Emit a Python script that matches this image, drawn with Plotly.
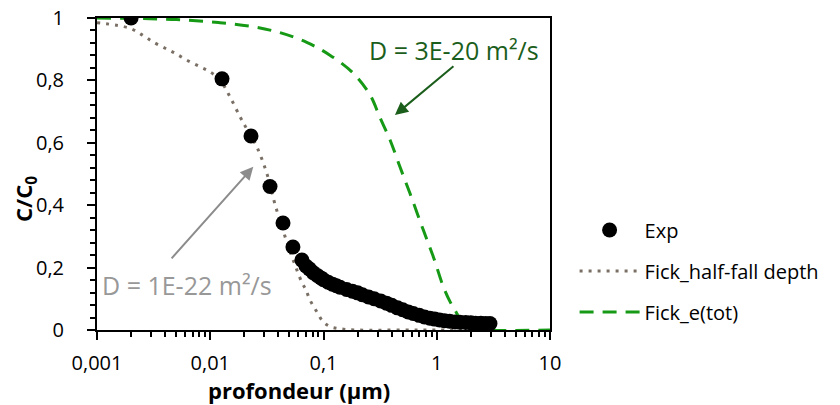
import plotly.graph_objects as go

# Exp data (depth in um, C/C0)
exp_x = [0.002, 0.0127, 0.0229, 0.0337, 0.0439, 0.0537, 0.0645,
         0.070, 0.075, 0.081, 0.088, 0.095, 0.100, 0.11, 0.12, 0.13, 0.14,
         0.16, 0.18, 0.20, 0.22, 0.25, 0.28, 0.32, 0.36, 0.40, 0.45, 0.50,
         0.56, 0.62, 0.70, 0.78, 0.87, 0.96, 1.06, 1.17, 1.30, 1.45, 1.60,
         1.80, 2.00, 2.20, 2.45, 2.70, 2.95]
exp_y = [1.0, 0.805, 0.622, 0.46, 0.343, 0.266, 0.224,
         0.205, 0.196, 0.184, 0.175, 0.167, 0.161, 0.153, 0.147, 0.142, 0.137,
         0.130, 0.124, 0.119, 0.113, 0.106, 0.100, 0.093, 0.086, 0.079, 0.071, 0.065,
         0.058, 0.053, 0.047, 0.042, 0.038, 0.035, 0.032, 0.030, 0.028, 0.026, 0.025,
         0.024, 0.023, 0.022, 0.022, 0.021, 0.021]

# Fick_half-fall depth
half_x = [0.001, 0.00195, 0.0026, 0.0031, 0.004, 0.0049, 0.0062, 0.0081, 0.0099,
          0.0122, 0.0149, 0.0183, 0.0209, 0.0257, 0.0316, 0.0375, 0.0456, 0.054,
          0.064, 0.070, 0.076, 0.087, 0.099, 0.114, 0.139, 0.2, 0.5, 1.0, 3.0]
half_y = [0.985, 0.967, 0.942, 0.924, 0.903, 0.887, 0.865, 0.844, 0.828,
          0.801, 0.748, 0.684, 0.646, 0.588, 0.502, 0.40, 0.301, 0.224,
          0.155, 0.128, 0.096, 0.059, 0.027, 0.011, 0.004, 0.0, 0.0, 0.0, 0.0]

# Fick_e(tot)
tot_x = [0.001, 0.005, 0.0122, 0.024, 0.0413, 0.0711, 0.114, 0.183, 0.258, 0.316,
         0.387, 0.473, 0.58, 0.76, 0.932, 1.143, 1.31, 1.50, 1.7, 1.9, 2.3, 10]
tot_y = [1.0, 0.995, 0.985, 0.972, 0.953, 0.922, 0.881, 0.823, 0.753, 0.68,
         0.609, 0.523, 0.438, 0.321, 0.235, 0.139, 0.091, 0.054, 0.02, 0.005, 0.0, 0.0]

FONT = "Open Sans"

fig = go.Figure()
fig.add_trace(go.Scatter(x=half_x, y=half_y, mode="lines", name="Fick_half-fall depth",
                         line=dict(color="#7a6f64", width=3, dash="3px,6px", shape="spline"),
                         legendrank=2, legendgroup="b"))
fig.add_trace(go.Scatter(x=tot_x, y=tot_y, mode="lines", name="Fick_e(tot)",
                         line=dict(color="#169a16", width=3, dash="14px,9px", shape="spline"),
                         legendrank=3, legendgroup="c"))
fig.add_trace(go.Scatter(x=exp_x, y=exp_y, mode="markers", name="Exp",
                         marker=dict(color="black", size=15),
                         legendrank=1, legendgroup="a"))

# arrows + labels
fig.add_annotation(x=-1.62, y=0.523, xref="x", yref="y", text="", showarrow=True,
                   ax=-83, ay=93, arrowhead=2, arrowsize=1.3, arrowwidth=2,
                   arrowcolor="#8c8c8c")
fig.add_annotation(x=-2.205, y=0.144, xref="x", yref="y", text="D = 1E-22 m²/s",
                   showarrow=False, font=dict(family=FONT, size=25, color="#989898"))
fig.add_annotation(x=-0.369, y=0.689, xref="x", yref="y", text="", showarrow=True,
                   ax=60, ay=-50, arrowhead=2, arrowsize=1.3, arrowwidth=2,
                   arrowcolor="#1b5e1b")
fig.add_annotation(x=0.152, y=0.897, xref="x", yref="y", text="D = 3E-20 m²/s",
                   showarrow=False, font=dict(family=FONT, size=25, color="#1b5e1b"))

# axis titles
fig.add_annotation(x=0.446, y=-0.192, xref="paper", yref="paper",
                   xanchor="center", yanchor="middle",
                   text="<b>profondeur (µm)</b>", showarrow=False,
                   font=dict(family=FONT, size=22, color="black"))
fig.add_annotation(x=-0.159, y=0.42, xref="paper", yref="paper",
                   xanchor="center", yanchor="middle",
                   text="<b>C/C<sub>0</sub></b>", showarrow=False, textangle=-90,
                   font=dict(family=FONT, size=22, color="black"))

fig.update_xaxes(type="log", range=[-3, 1], automargin=False,
                 tickvals=[0.001, 0.01, 0.1, 1, 10],
                 ticktext=["0,001", "0,01", "0,1", "1", "10"],
                 ticks="outside", ticklen=8, tickwidth=2, tickcolor="black",
                 minor=dict(ticks="outside", dtick="D1", ticklen=5, tickwidth=1.5,
                            tickcolor="black", showgrid=False),
                 showline=True, linecolor="black", linewidth=2, mirror=True,
                 showgrid=False, zeroline=False, ticklabelstandoff=6,
                 ticklabeloverflow="allow",
                 tickfont=dict(family=FONT, size=20, color="black"))
fig.update_yaxes(range=[0, 1], dtick=0.2, automargin=False,
                 ticks="outside", ticklen=8, tickwidth=2, tickcolor="black",
                 minor=dict(ticks="outside", dtick=0.04, ticklen=5, tickwidth=1.5,
                            tickcolor="black", showgrid=False),
                 showline=True, linecolor="black", linewidth=2, mirror=True,
                 showgrid=False, zeroline=False, ticklabelstandoff=19,
                 ticklabeloverflow="allow",
                 tickfont=dict(family=FONT, size=20, color="black"))

# page body has an 8px margin, so the figure is 8px smaller than the window
fig.update_layout(width=832, height=397, separators=", ",
                  margin=dict(l=89, r=290, t=10, b=75, autoexpand=False),
                  plot_bgcolor="white", paper_bgcolor="white",
                  font=dict(family=FONT, size=20, color="black"),
                  legend=dict(xref="container", yref="container", x=0.681, y=0.49,
                              xanchor="left", yanchor="top", tracegroupgap=12,
                              itemwidth=60, bgcolor="rgba(0,0,0,0)",
                              font=dict(family=FONT, size=20, color="black")))

fig.write_html("out.html")
